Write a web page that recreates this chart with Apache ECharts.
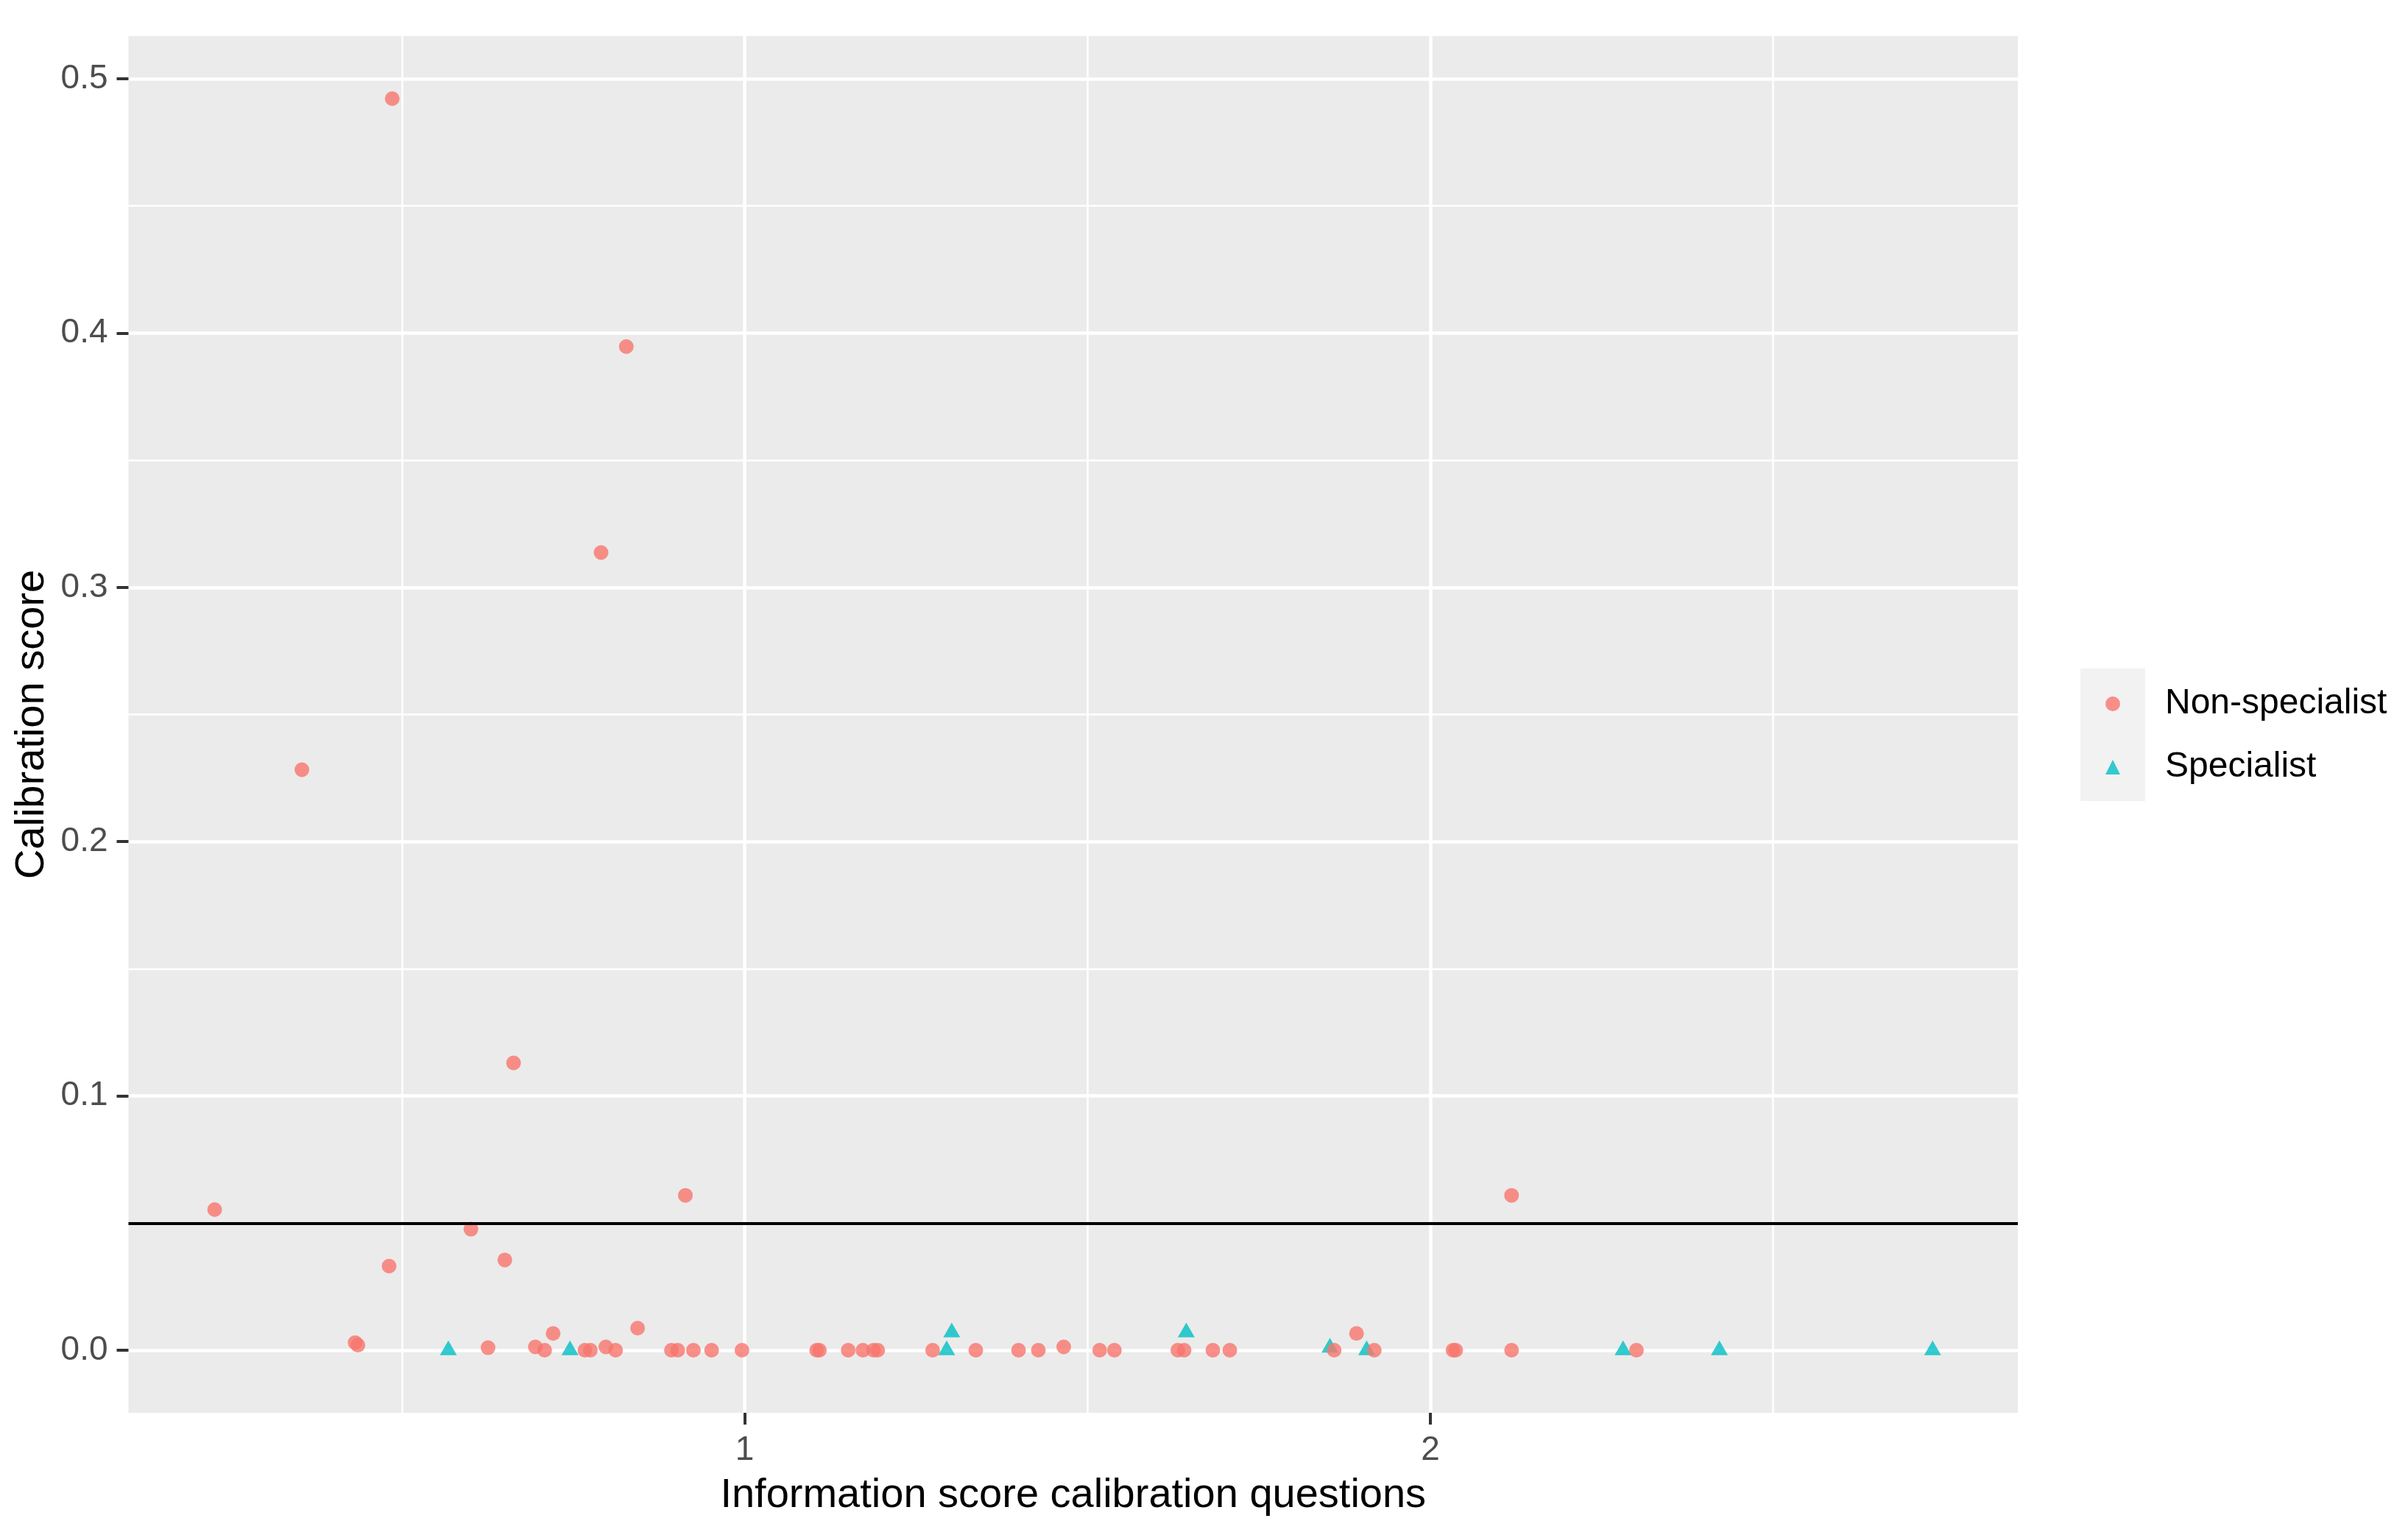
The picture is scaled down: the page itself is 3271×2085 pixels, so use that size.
<!DOCTYPE html>
<html>
<head>
<meta charset="utf-8">
<script src="https://cdn.jsdelivr.net/npm/echarts@6/dist/echarts.min.js"></script>
<style>
  html, body { margin: 0; padding: 0; background: #fff; }
  #chart { width: 3271px; height: 2085px; }
</style>
</head>
<body>
<div id="chart"></div>
<script>
// Non-specialist: information score (x) / calibration score (y)
const nonSpecX = [0.2271, 0.3543, 0.432, 0.436, 0.4815, 0.4861, 0.6008, 0.6258, 0.6503, 0.6630,
  0.6948, 0.7083, 0.7207, 0.767, 0.775, 0.7906, 0.7976, 0.8118, 0.8274, 0.8439,
  0.8932, 0.9024, 0.9136, 0.9253, 0.9518, 0.9961, 1.105, 1.109, 1.151, 1.1725,
  1.188, 1.194, 1.2742, 1.3371, 1.3994, 1.4283, 1.4653, 1.5177, 1.5392, 1.6317,
  1.6409, 1.6828, 1.7075, 1.8597, 1.8923, 1.9182, 2.033, 2.037, 2.1184, 2.1184,
  2.3005];
const nonSpecY = [0.0553, 0.2283, 0.003, 0.002, 0.0331, 0.4922, 0.0476, 0.001, 0.0355, 0.1130,
  0.0013, 0, 0.0066, 0, 0, 0.3137, 0.0013, 0, 0.3947, 0.0087,
  0, 0, 0.0609, 0, 0, 0, 0, 0, 0, 0,
  0, 0, 0, 0, 0, 0, 0.0013, 0, 0, 0,
  0, 0, 0, 0, 0.0066, 0, 0, 0, 0.0609, 0,
  0];

// Specialist
const specX = [0.5679, 0.7453, 1.2946, 1.302, 1.644, 1.8535, 1.9071, 2.281, 2.4215, 2.7324];
const specY = [0, 0, 0, 0.007, 0.007, 0.001, 0, 0, 0, 0];

const xTicks = [1, 2];
const xMinor = [0.5, 1.5, 2.5];
const yTicks = [0, 0.1, 0.2, 0.3, 0.4, 0.5];
const yMinor = [0.05, 0.15, 0.25, 0.35, 0.45];
const refLine = 0.05;

const FONT = '"Liberation Sans", Arial, sans-serif';
const zip = (xs, ys) => xs.map((x, i) => [x, ys[i]]);

const xRange = { min: 0.1014, max: 2.8567 };
const yRange = { min: -0.0246, max: 0.5168 };

function majorAxis(range, ticks, fmt) {
  return {
    type: 'value',
    min: range.min,
    max: range.max,
    axisLine: { show: false, onZero: false },
    axisTick: { show: true, customValues: ticks, length: 16, lineStyle: { color: '#333333', width: 4 } },
    axisLabel: {
      show: true, customValues: ticks, formatter: fmt,
      fontSize: 46, fontFamily: FONT, color: '#4D4D4D', margin: 28
    },
    splitLine: { show: true, lineStyle: { color: '#FFFFFF', width: 4.5 } }
  };
}

function minorAxis(range, ticks) {
  return {
    type: 'value',
    min: range.min,
    max: range.max,
    axisLine: { show: false, onZero: false },
    axisTick: { show: false, customValues: ticks },
    axisLabel: { show: false },
    splitLine: { show: true, lineStyle: { color: '#FFFFFF', width: 2.5 } }
  };
}

const chart = echarts.init(document.getElementById('chart'));
chart.setOption({
  animation: false,
  backgroundColor: '#FFFFFF',
  grid: {
    left: 174.5, right: 530, top: 49, bottom: 166,
    show: true, backgroundColor: '#EBEBEB', borderWidth: 0,
    containLabel: false, outerBoundsMode: 'none'
  },
  xAxis: [
    Object.assign(majorAxis(xRange, xTicks, v => String(v)), {
      position: 'bottom',
      name: 'Information score calibration questions',
      nameLocation: 'middle', nameGap: 85,
      nameTextStyle: { fontSize: 56, fontFamily: FONT, color: '#000000' }
    }),
    Object.assign(minorAxis(xRange, xMinor), { position: 'top' })
  ],
  yAxis: [
    Object.assign(majorAxis(yRange, yTicks, v => v.toFixed(1)), {
      position: 'left',
      name: 'Calibration score',
      nameLocation: 'middle', nameGap: 101,
      nameTextStyle: { fontSize: 56, fontFamily: FONT, color: '#000000' }
    }),
    Object.assign(minorAxis(yRange, yMinor), { position: 'right' })
  ],
  legend: {
    orient: 'vertical',
    left: 2860, top: 929, padding: 0,
    itemWidth: 20, itemHeight: 20, itemGap: 32,
    data: [
      { name: 'Non-specialist', icon: 'circle' },
      { name: 'Specialist', icon: 'triangle' }
    ],
    textStyle: { fontSize: 48, fontFamily: FONT, color: '#000000', lineHeight: 48, padding: [6, 0, 0, 56] }
  },
  graphic: [{
    type: 'rect', left: 2826, top: 908, z: 0,
    shape: { width: 88, height: 180 },
    style: { fill: '#F2F2F2' }
  }],
  series: [
    {
      name: 'Specialist',
      type: 'scatter',
      xAxisIndex: 0, yAxisIndex: 0,
      data: zip(specX, specY),
      symbol: 'triangle',
      symbolSize: [23, 20],
      symbolOffset: [0, -3.3],
      itemStyle: { color: '#00BFC4', opacity: 0.8 },
      z: 2
    },
    {
      name: 'Non-specialist',
      type: 'scatter',
      xAxisIndex: 0, yAxisIndex: 0,
      data: zip(nonSpecX, nonSpecY),
      symbol: 'circle',
      symbolSize: 20,
      itemStyle: { color: '#F8766D', opacity: 0.8 },
      z: 3
    },
    {
      name: 'ref',
      type: 'line',
      xAxisIndex: 0, yAxisIndex: 0,
      data: [],
      z: 5,
      markLine: {
        silent: true,
        symbol: 'none',
        label: { show: false },
        lineStyle: { color: '#000000', width: 4, type: 'solid' },
        data: [{ yAxis: refLine }]
      }
    }
  ]
});
</script>
</body>
</html>
